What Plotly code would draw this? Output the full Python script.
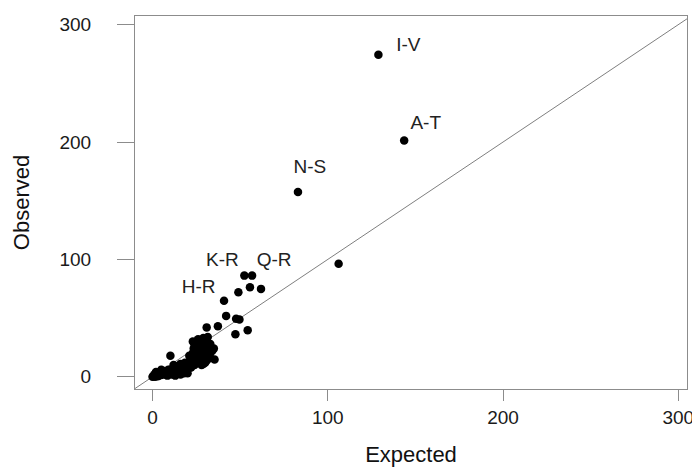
import plotly.graph_objects as go

# Expected vs Observed counts
expected = [
    128.9, 143.6, 83.0, 106.2,
    52.4, 56.8, 55.6, 49.0, 61.9, 40.8, 42.0, 47.7, 49.6, 30.9, 37.3, 47.3, 54.3,
    10.2, 35.4,
    0.5, 1.0, 2.0, 2.5, 3.0, 4.0, 4.5, 5.0, 6.0, 6.5, 7.0, 8.0, 8.5, 9.0, 10.0,
    10.5, 11.0, 12.0, 12.5, 13.0, 14.0, 15.0, 15.5, 16.0, 17.0, 18.0, 19.0, 19.5,
    20.0, 21.0, 22.0, 22.5, 23.0, 23.5, 24.0, 24.5, 25.0, 25.5, 26.0, 26.5, 27.0,
    28.0, 28.5, 29.0, 29.5, 30.0, 31.0, 31.5, 32.0, 32.5, 33.0, 34.0, 2.0, 5.0,
    3.0, 1.0, 18.5, 21.5,
    20.0, 22.0, 24.0, 26.0, 28.0, 27.0, 30.0, 24.0, 21.0, 23.0, 26.0, 29.0, 33.0,
    35.0, 31.0, 29.0, 16.0, 14.0, 12.0, 18.0, 16.0, 13.0, 20.0, 0.0, 1.5, 3.5,
]
observed = [
    274.3, 201.4, 157.4, 96.3,
    86.2, 86.2, 76.3, 72.0, 74.9, 64.7, 51.9, 49.5, 48.9, 42.1, 43.0, 36.2, 39.6,
    18.0, 14.7,
    0.5, 2.0, 1.0, 3.0, 0.5, 2.0, 4.0, 1.5, 3.0, 5.0, 2.0, 4.0, 1.0, 6.0, 3.0,
    5.0, 2.0, 4.0, 7.0, 5.0, 3.0, 6.0, 4.0, 8.0, 5.0, 7.0, 4.0, 10.0,
    6.0, 9.0, 12.0, 16.0, 20.0, 24.0, 27.0, 22.0, 18.0, 29.0, 14.0, 25.0, 20.0,
    17.0, 23.0, 28.0, 15.0, 21.0, 30.0, 34.0, 25.0, 19.0, 16.0, 22.0, 4.0, 6.0,
    3.0, 1.0, 12.0, 14.0,
    12.0, 8.0, 10.0, 12.0, 10.0, 14.0, 12.0, 15.0, 18.0, 30.0, 32.0, 33.0, 28.0,
    24.0, 14.0, 11.0, 11.0, 9.0, 10.0, 3.0, 2.0, 1.0, 3.0, 0.0, 0.0, 1.0,
]

label_text = ["I-V", "A-T", "N-S", "K-R", "Q-R", "H-R"]
label_x = [146.0, 155.9, 89.8, 39.9, 69.4, 26.3]
label_y = [281.9, 215.4, 177.3, 98.1, 98.1, 75.2]

tick_vals = [0, 100, 200, 300]
x_range = [-10.0, 305.0]
y_range = [-10.4, 307.4]

FONT = "Liberation Sans, Arial, sans-serif"

fig = go.Figure()

# identity line y = x spanning the axes
lo = min(x_range[0], y_range[0]) - 5
hi = max(x_range[1], y_range[1]) + 5
fig.add_trace(go.Scatter(
    x=[lo, hi], y=[lo, hi], mode="lines",
    line=dict(color="#7f7f7f", width=1), hoverinfo="skip", showlegend=False,
))

fig.add_trace(go.Scatter(
    x=expected, y=observed, mode="markers",
    marker=dict(color="black", size=8.5, line=dict(width=0)),
    showlegend=False,
))

fig.add_trace(go.Scatter(
    x=label_x, y=label_y, mode="text", text=label_text,
    textfont=dict(family=FONT, size=19, color="#222222"),
    showlegend=False, hoverinfo="skip",
))

axis_common = dict(
    tickvals=tick_vals,
    showgrid=False, zeroline=False,
    showline=True, mirror=True, linecolor="#8c8c8c", linewidth=1.2,
    ticks="outside", tickcolor="#8c8c8c", tickwidth=1.2,
    tickfont=dict(family=FONT, size=19, color="#1a1a1a"),
)

fig.update_layout(
    width=692, height=467,
    margin=dict(l=127, r=9, t=6, b=86),
    paper_bgcolor="white", plot_bgcolor="white",
    xaxis=dict(range=x_range, ticklen=11, ticklabelstandoff=0,
               title=dict(text="Expected", font=dict(family=FONT, size=22, color="#111111"), standoff=19),
               **axis_common),
    yaxis=dict(range=y_range, ticklen=17, ticklabelstandoff=22,
               title=dict(text="Observed", font=dict(family=FONT, size=22, color="#111111"), standoff=23),
               **axis_common),
)

fig.write_html("out.html")
